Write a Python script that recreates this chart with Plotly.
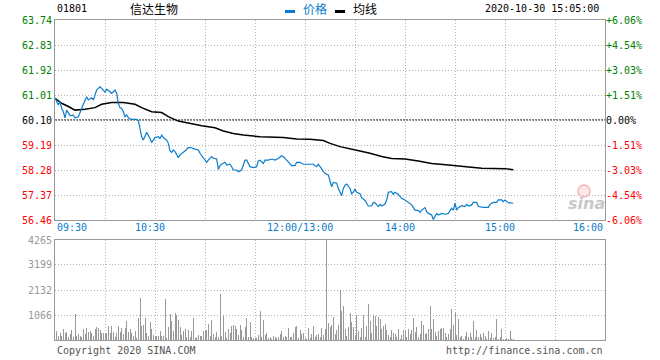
import plotly.graph_objects as go

# ---------------- data ----------------
stock_code = "01801"
stock_name = "信达生物"
timestamp = "2020-10-30 15:05:00"
prev_close = 60.10

# minutes since 09:30 open (trading minutes, lunch break removed; 150 = 12:00/13:00)
price_minute = [0, 2, 3, 4, 5, 6, 7, 9, 11, 12, 14, 15, 16, 17, 19, 20, 22, 23, 24, 25,
                26, 27, 29, 30, 31, 32, 33, 34, 36, 37, 38, 39, 40, 41, 42, 43, 44, 46, 49, 50,
                51, 52, 53, 54, 55, 57, 58, 59, 60, 62, 63, 64, 65, 67, 68, 69, 70, 71, 72, 73,
                74, 75, 77, 78, 80, 82, 84, 86, 87, 89, 90, 91, 92, 94, 95, 97, 98, 99, 100, 102,
                103, 105, 106, 107, 109, 110, 112, 113, 114, 115, 116, 117, 119, 121, 122, 123, 125, 126, 128, 130,
                132, 134, 136, 137, 139, 141, 142, 144, 145, 147, 149, 153, 155, 157, 158, 160, 161, 163, 164, 165,
                166, 167, 169, 170, 172, 173, 174, 175, 177, 178, 179, 180, 181, 183, 184, 186, 188, 190, 191, 192,
                194, 195, 196, 198, 199, 200, 202, 203, 204, 206, 207, 208, 210, 212, 213, 214, 216, 218, 219, 220,
                222, 223, 224, 226, 227, 228, 229, 230, 232, 234, 236, 238, 239, 240, 241, 242, 244, 246, 247, 248,
                250, 251, 253, 254, 257, 260, 261, 263, 265, 266, 268, 269, 270, 272, 275]
price = [60.91, 60.65, 60.77, 60.52, 60.40, 60.18, 60.46, 60.26, 60.28, 60.18, 60.22, 60.40, 60.52, 60.67, 60.95, 60.83, 60.91, 60.83, 61.01, 61.19,
         61.25, 61.31, 61.19, 61.11, 61.22, 61.19, 61.13, 61.07, 61.19, 61.07, 60.70, 60.55, 60.52, 60.40, 60.22, 60.28, 60.18, 60.12, 60.12, 60.08,
         59.80, 59.49, 59.37, 59.55, 59.65, 59.43, 59.29, 59.37, 59.46, 59.49, 59.43, 59.55, 59.46, 59.37, 59.25, 58.97, 58.92, 59.01, 58.95, 58.85,
         58.73, 58.83, 58.91, 58.97, 59.10, 59.09, 59.04, 59.01, 58.89, 58.71, 58.61, 58.56, 58.64, 58.77, 58.71, 58.68, 58.30, 58.44, 58.49, 58.56,
         58.46, 58.49, 58.40, 58.28, 58.28, 58.22, 58.28, 58.46, 58.64, 58.64, 58.49, 58.40, 58.37, 58.40, 58.61, 58.64, 58.52, 58.64, 58.64, 58.68,
         58.64, 58.70, 58.80, 58.77, 58.64, 58.49, 58.44, 58.44, 58.56, 58.56, 58.49, 58.49, 58.49, 58.40, 58.49, 58.32, 58.22, 58.12, 58.10, 57.88,
         57.67, 57.83, 57.80, 57.61, 57.35, 57.61, 57.73, 57.77, 57.61, 57.41, 57.47, 57.58, 57.47, 57.42, 57.27, 57.17, 56.97, 56.97, 57.10, 57.09,
         56.95, 57.03, 56.97, 57.04, 57.19, 57.47, 57.49, 57.39, 57.47, 57.39, 57.33, 57.25, 57.19, 57.09, 57.07, 57.01, 56.82, 56.80, 56.74, 56.82,
         56.91, 56.76, 56.70, 56.64, 56.48, 56.58, 56.70, 56.64, 56.70, 56.67, 56.70, 56.89, 56.82, 57.07, 56.82, 56.91, 56.98, 56.95, 57.03, 56.97,
         57.01, 57.10, 57.10, 56.95, 56.92, 56.92, 57.03, 57.10, 57.10, 57.19, 57.19, 57.13, 57.19, 57.09, 57.07]

avg_minute = [0, 4, 8, 12, 18, 24, 28, 34, 41, 48, 52, 58, 64, 68, 74, 80, 88, 96, 101, 107,
              113, 123, 137, 145, 153, 161, 165, 171, 177, 183, 189, 196, 202, 210, 218, 226, 236, 246, 256, 270, 275]
avg_price = [60.89, 60.71, 60.59, 60.46, 60.49, 60.55, 60.67, 60.74, 60.74, 60.67, 60.55, 60.40, 60.37, 60.22, 60.06, 59.98, 59.89, 59.82, 59.70, 59.61,
             59.55, 59.49, 59.46, 59.41, 59.40, 59.35, 59.25, 59.13, 59.04, 58.97, 58.89, 58.77, 58.70, 58.68, 58.61, 58.52, 58.46, 58.39, 58.34, 58.33, 58.29]

# per-minute volume, minutes 1..275
volume = [398, 171, 284, 171, 469, 284, 327, 114, 256, 427,
          114, 1109, 171, 256, 185, 142, 469, 256, 512, 355,
          398, 284, 171, 469, 554, 512, 427, 313, 284, 256,
          313, 597, 313, 597, 341, 142, 284, 597, 341, 498,
          242, 498, 810, 355, 455, 284, 171, 384, 100, 924,
          1791, 597, 640, 938, 313, 171, 768, 469, 213, 185,
          171, 171, 384, 171, 171, 1749, 100, 554, 1109, 810,
          384, 1152, 1066, 853, 569, 213, 384, 469, 114, 427,
          142, 384, 953, 100, 142, 213, 185, 171, 384, 384,
          427, 682, 171, 853, 242, 142, 341, 142, 1962, 171,
          1024, 341, 100, 469, 313, 597, 640, 597, 455, 199,
          640, 427, 142, 554, 938, 142, 768, 142, 100, 100,
          100, 213, 1237, 128, 853, 213, 313, 100, 142, 57,
          171, 128, 85, 142, 256, 384, 142, 185,
          142, 512, 142, 142, 313, 554, 597, 100, 427, 256,
          313, 100, 57, 512, 85, 256, 597, 142, 199, 256,
          142, 512, 213, 469, 4265, 725, 554, 640, 981, 256,
          427, 640, 2133, 1237, 1450, 469, 171, 554, 1152, 768,
          554, 213, 1066, 384, 142, 512, 1066, 114, 597, 1535,
          810, 284, 1066, 1024, 597, 981, 896, 469, 597, 682,
          427, 213, 142, 427, 299, 256, 114, 469, 57, 213,
          427, 398, 128, 469, 256, 427, 938, 341, 554, 142,
          256, 810, 640, 256, 299, 469, 1450, 469, 896, 341,
          171, 384, 469, 512, 512, 299, 142, 256, 469, 1322,
          640, 1194, 213, 896, 142, 171, 57, 171, 341, 142,
          299, 128, 810, 142, 427, 128, 256, 114, 299, 171,
          43, 384, 100, 299, 85, 128, 896, 57, 128, 469,
          43, 57, 85, 43, 384, 43, 57]
volume_minute = list(range(1, len(volume) + 1))

price_ticks = [63.74, 62.83, 61.92, 61.01, 60.10, 59.19, 58.28, 57.37, 56.46]
pct_labels = ["+6.06%", "+4.54%", "+3.03%", "+1.51%", "0.00%", "-1.51%", "-3.03%", "-4.54%", "-6.06%"]
volume_ticks = [1066, 2132, 3199, 4265]
grid_minutes = [30, 60, 90, 120, 150, 180, 210, 240, 270, 300]
x_tick_minutes = [0, 60, 150, 210, 270, 330]
x_tick_labels = ["09:30", "10:30", "12:00/13:00", "14:00", "15:00", "16:00"]
session_minutes = 330
volume_max = 4265

# ---------------- styling ----------------
MONO = "DejaVu Sans Mono"
CJK = "Noto Sans CJK SC"
BLUE = "#0a7ccc"
GREEN = "#008000"
RED = "#ff0000"
FRAME = "#999999"
GRID = "#b4b4b4"
GRIDDASH = "1px,2px"


def colour_for(v):
    if abs(v - prev_close) < 1e-9:
        return "#000000"
    return GREEN if v > prev_close else RED


left_text = [f'<span style="color:{colour_for(v)}">{v:.2f}</span>' for v in price_ticks]
right_text = [f'<span style="color:{colour_for(v)}">{t}</span>' for v, t in zip(price_ticks, pct_labels)]

fig = go.Figure()

fig.add_trace(go.Bar(x=volume_minute, y=volume, xaxis="x2", yaxis="y3",
                     marker=dict(color="#999999", line=dict(width=0)), width=0.6,
                     hoverinfo="skip"))
fig.add_trace(go.Scatter(x=avg_minute, y=avg_price, mode="lines",
                         line=dict(color="#000000", width=1.5), hoverinfo="skip"))
fig.add_trace(go.Scatter(x=price_minute, y=price, mode="lines",
                         line=dict(color=BLUE, width=1.2), hoverinfo="skip"))
fig.add_trace(go.Scatter(x=[0], y=[prev_close], yaxis="y2", mode="markers",
                         marker=dict(opacity=0), hoverinfo="skip"))

axis_common = dict(showgrid=True, gridcolor=GRID, griddash=GRIDDASH, gridwidth=1,
                   showline=True, linecolor=FRAME, linewidth=1, mirror=True,
                   zeroline=False, ticks="", fixedrange=True, automargin=False)

fig.update_layout(
    width=660, height=360, autosize=False,
    margin=dict(l=55, r=55, t=20, b=20, pad=0),
    paper_bgcolor="white", plot_bgcolor="white",
    showlegend=False,
    font=dict(family=MONO, size=10, color="#000000"),
    xaxis=dict(domain=[0, 1], anchor="y", range=[0, session_minutes],
               tickvals=grid_minutes, showticklabels=False, **axis_common),
    yaxis=dict(domain=[0.375, 1], anchor="x", range=[price_ticks[-1], price_ticks[0]],
               tickvals=price_ticks, ticktext=left_text, tickfont=dict(family=MONO, size=10),
               **axis_common),
    yaxis2=dict(overlaying="y", side="right", anchor="x", range=[price_ticks[-1], price_ticks[0]],
                tickvals=price_ticks, ticktext=right_text, tickfont=dict(family=MONO, size=10),
                showgrid=False, showline=False, zeroline=False, ticks="", fixedrange=True,
                automargin=False),
    xaxis2=dict(domain=[0, 1], anchor="y3", range=[0, session_minutes],
                tickvals=grid_minutes, showticklabels=False, **axis_common),
    yaxis3=dict(domain=[0, 0.3125], anchor="x2", range=[0, volume_max],
                tickvals=volume_ticks, ticktext=[str(v) for v in volume_ticks],
                tickfont=dict(family=MONO, size=10, color="#999999"), **axis_common),
    bargap=0,
)

# previous close reference line
fig.add_shape(type="line", xref="x", yref="y", x0=0, x1=session_minutes, y0=prev_close, y1=prev_close,
              line=dict(color="#000000", width=1, dash="2px,1px"), layer="below")

# time labels between the two panels
for i, (m, lab) in enumerate(zip(x_tick_minutes, x_tick_labels)):
    if i == 0:
        anchor, shift = "left", 0
    elif i == len(x_tick_minutes) - 1:
        anchor, shift = "right", 0
    else:
        anchor, shift = "center", -5
    fig.add_annotation(x=m, xref="x", y=0.353, yref="paper", text=lab, showarrow=False,
                       xanchor=anchor, yanchor="middle", xshift=shift,
                       font=dict(family=MONO, size=10, color=BLUE))

W, H, L, B = 550.0, 320.0, 55.0, 20.0


def px(xp):
    return (xp - L) / W


def py(yp):
    return (340.0 - yp) / H


# header
fig.add_annotation(x=px(55), y=py(9), xref="paper", yref="paper", text=stock_code, showarrow=False,
                   xanchor="left", yanchor="middle", font=dict(family=MONO, size=10, color="#000000"))
fig.add_annotation(x=px(154), y=py(9), xref="paper", yref="paper", text=stock_name, showarrow=False,
                   xanchor="center", yanchor="middle", font=dict(family=CJK, size=12, color="#000000"))
fig.add_shape(type="rect", xref="paper", yref="paper", x0=px(285), x1=px(295), y0=py(13), y1=py(10),
              line=dict(width=0), fillcolor=BLUE)
fig.add_annotation(x=px(301), y=py(9), xref="paper", yref="paper", text="价格", showarrow=False,
                   xanchor="left", yanchor="middle", font=dict(family=CJK, size=12, color=BLUE))
fig.add_shape(type="rect", xref="paper", yref="paper", x0=px(335), x1=px(345), y0=py(13), y1=py(10),
              line=dict(width=0), fillcolor="#000000")
fig.add_annotation(x=px(351), y=py(9), xref="paper", yref="paper", text="均线", showarrow=False,
                   xanchor="left", yanchor="middle", font=dict(family=CJK, size=12, color="#000000"))
fig.add_annotation(x=px(601), y=py(9), xref="paper", yref="paper", text=timestamp, showarrow=False,
                   xanchor="right", yanchor="middle", font=dict(family=MONO, size=10, color="#000000"))

# footer
fig.add_annotation(x=px(55), y=py(350), xref="paper", yref="paper", text="Copyright 2020 SINA.COM",
                   showarrow=False, xanchor="left", yanchor="middle",
                   font=dict(family=MONO, size=10, color="#555555"))
fig.add_annotation(x=px(605), y=py(350), xref="paper", yref="paper", text="http://finance.sina.com.cn",
                   showarrow=False, xanchor="right", yanchor="middle",
                   font=dict(family=MONO, size=10, color="#555555"))

# sina watermark
fig.add_shape(type="circle", xref="paper", yref="paper", x0=px(578), x1=px(590), y0=py(197), y1=py(185),
              line=dict(color="#f4b8b8", width=1.5), fillcolor="rgba(245,190,190,0.35)")
fig.add_annotation(x=px(586), y=py(203), xref="paper", yref="paper", text="<b><i>sina</i></b>",
                   showarrow=False, xanchor="center", yanchor="middle",
                   font=dict(family="DejaVu Sans", size=16, color="#c8c8c8"))

fig.write_html("out.html", config={"displayModeBar": False, "staticPlot": True},
               post_script="document.body.style.margin='0';document.body.style.padding='0';")
